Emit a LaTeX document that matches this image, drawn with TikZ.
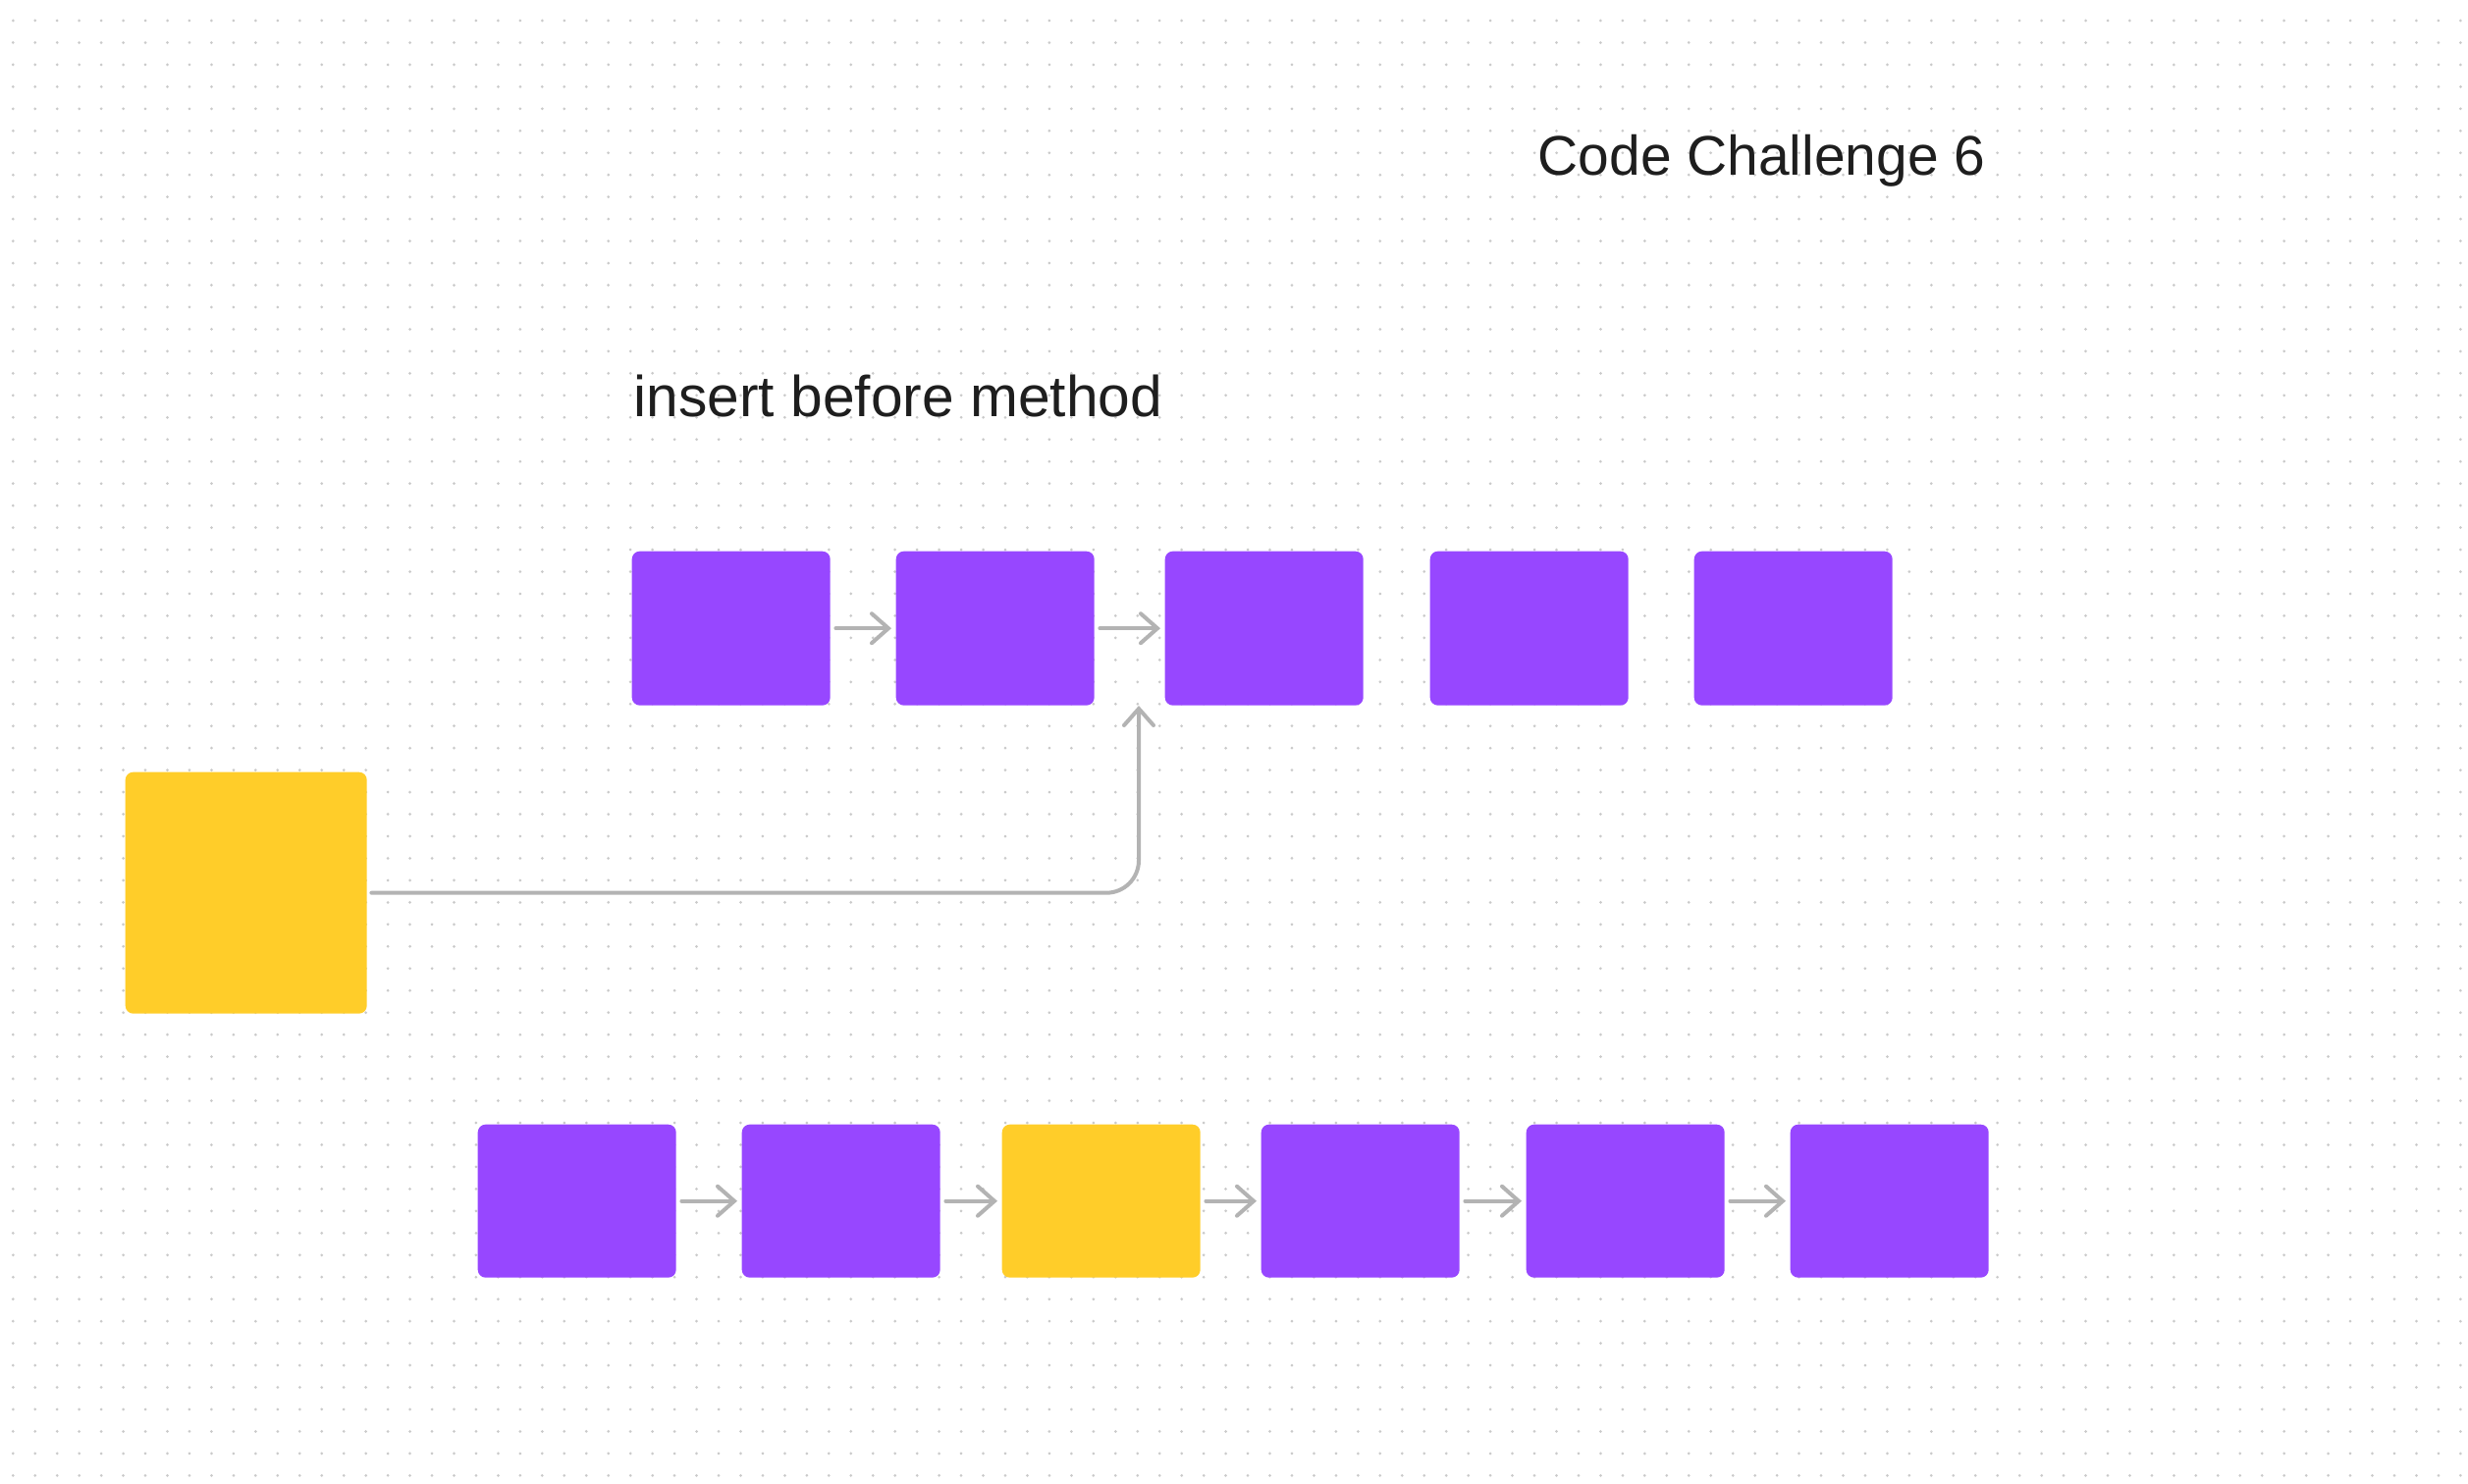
\documentclass[tikz,border=0pt]{standalone}
\usepackage{fontspec}
\setmainfont{Liberation Sans}
\usetikzlibrary{arrows.meta}
\definecolor{nodepurple}{HTML}{9747FF}
\definecolor{nodeyellow}{HTML}{FFCD29}
\definecolor{linkgray}{HTML}{B3B3B3}
\definecolor{dotgray}{HTML}{CACACA}
\definecolor{textdark}{HTML}{1E1E1E}
\tikzset{
  cell/.style={draw=none, rounded corners=0.8mm, inner sep=0pt, anchor=north west,
    minimum width=20.2mm, minimum height=15.7mm},
  pcell/.style={cell, fill=nodepurple},
  ycell/.style={cell, fill=nodeyellow},
  link/.style={draw=linkgray, line width=0.4mm, line cap=round,
    -{Straight Barb[length=1.7mm,width=3.0mm,line width=0.4mm,line cap=round]}},
  title/.style={anchor=base west, inner sep=0pt, text=textdark}
}
\begin{document}
\begin{tikzpicture}[x=0.1mm,y=-0.1mm]
  \useasboundingbox (0,0) rectangle (2514,1512);
  \fill[white] (0,0) rectangle (2514,1512);
  % dot grid
  \foreach \j in {0,...,66} {
    \fill[dotgray] \foreach \i in {0,...,111} {
      ({13.3+22.46*\i},{21+22.46*\j}) circle[radius=0.15mm] };
  }
  % texts
  \node[title, font=\fontsize{16.2pt}{20pt}\selectfont] (ttl) at (1566,179) {Code Challenge 6};
  \node[title, font=\fontsize{16.7pt}{20pt}\selectfont] (sub) at (645,425) {insert before method};
  % top row
  \node[pcell] (t1) at (643,561) {};
  \node[pcell] (t2) at (912,561) {};
  \node[pcell] (t3) at (1186,561) {};
  \node[pcell] (t4) at (1456,561) {};
  \node[pcell] (t5) at (1725,561) {};
  % new node
  \node[ycell, minimum width=24.6mm, minimum height=24.6mm] (nw) at (127,786) {};
  % bottom row
  \node[pcell, minimum height=15.6mm] (b1) at (486,1145) {};
  \node[pcell, minimum height=15.6mm] (b2) at (755,1145) {};
  \node[ycell, minimum height=15.6mm] (b3) at (1020,1145) {};
  \node[pcell, minimum height=15.6mm] (b4) at (1284,1145) {};
  \node[pcell, minimum height=15.6mm] (b5) at (1554,1145) {};
  \node[pcell, minimum height=15.6mm] (b6) at (1823,1145) {};
  % connectors
  \draw[link, shorten <=0.5mm, shorten >=0.4mm] (t1.east) -- (t2.west);
  \draw[link, shorten <=0.5mm, shorten >=0.4mm] (t2.east) -- (t3.west);
  \coordinate (ins) at (1160,719);
  \draw[link, rounded corners=3.3mm, shorten <=0.4mm] (nw.east) -| (ins);
  \draw[link, shorten <=0.5mm, shorten >=0.4mm] (b1.east) -- (b2.west);
  \draw[link, shorten <=0.5mm, shorten >=0.4mm] (b2.east) -- (b3.west);
  \draw[link, shorten <=0.5mm, shorten >=0.4mm] (b3.east) -- (b4.west);
  \draw[link, shorten <=0.5mm, shorten >=0.4mm] (b4.east) -- (b5.west);
  \draw[link, shorten <=0.5mm, shorten >=0.4mm] (b5.east) -- (b6.west);
\end{tikzpicture}
\end{document}
